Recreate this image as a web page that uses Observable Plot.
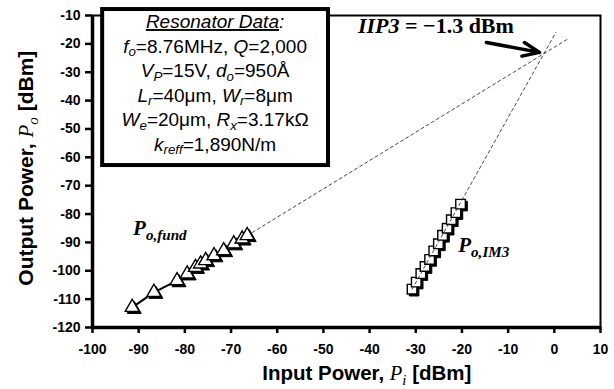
<!DOCTYPE html>
<html>
<head>
<meta charset="utf-8">
<script src="https://cdn.jsdelivr.net/npm/d3@7"></script>
<script src="https://cdn.jsdelivr.net/npm/@observablehq/plot@0.6"></script>
<style>
  html, body { margin: 0; padding: 0; background: #fff; }
  #chart { width: 614px; height: 389px; }
</style>
</head>
<body>
<div id="chart"></div>
<script>
// ---- data ----
const fundPin  = [-91.4, -86.7, -81.7, -79.5, -77.7, -76.6, -75.5, -73.7, -71.6, -69.4, -67.6, -66.5];
const fundPout = [-112.9, -107.6, -103.5, -101.1, -98.8, -97.6, -96.4, -94.7, -92.9, -90.5, -88.8, -87.6];
const im3Pin   = [-30.8, -29.9, -28.9, -28.0, -27.0, -26.1, -25.1, -24.2, -23.2, -22.3, -21.3, -20.3];
const im3Pout  = [-106.5, -104.0, -101.0, -98.5, -96.0, -93.0, -90.5, -87.5, -85.0, -82.0, -79.5, -76.5];
const fundExtrapPin  = [-66.5, 3.0];
const fundExtrapPout = [-87.6, -18.2];
const im3ExtrapPin   = [-30.8, 0.3];
const im3ExtrapPout  = [-106.5, -16.0];
const xTicks = [-100, -90, -80, -70, -60, -50, -40, -30, -20, -10, 0, 10];
const yTicks = [-120, -110, -100, -90, -80, -70, -60, -50, -40, -30, -20, -10];
const boxLines = [
  [["Resonator Data", "iu"], [":", "i"]],
  [["f", "i"], ["o", "s"], ["=8.76MHz, ", ""], ["Q", "i"], ["=2,000", ""]],
  [["V", "i"], ["P", "s"], ["=15V, ", ""], ["d", "i"], ["o", "s"], ["=950\u00C5", ""]],
  [["L", "i"], ["r", "s"], ["=40\u03BCm, ", ""], ["W", "i"], ["r", "s"], ["=8\u03BCm", ""]],
  [["W", "i"], ["e", "s"], ["=20\u03BCm, ", ""], ["R", "i"], ["x", "s"], ["=3.17k\u03A9", ""]],
  [["k", "i"], ["reff", "s"], ["=1,890N/m", ""]]
];

const fund = fundPin.map((x, i) => ({x, y: fundPout[i]}));
const im3 = im3Pin.map((x, i) => ({x, y: im3Pout[i]}));
const fundExt = fundExtrapPin.map((x, i) => ({x, y: fundExtrapPout[i]}));
const im3Ext = im3ExtrapPin.map((x, i) => ({x, y: im3ExtrapPout[i]}));

// annotation anchors (data units)
const box = {x1: -97.8, x2: -48.9, y1: -7.9, y2: -62.9};
const arrowA = {x1: -14.7, y1: -19.5, x2: -3.2, y2: -23.0};

const sans = "'Liberation Sans', Arial, Helvetica, sans-serif";
const serif = "'Liberation Serif', 'Times New Roman', serif";

const plot = Plot.plot({
  width: 614,
  height: 389,
  marginLeft: 92,
  marginRight: 14,
  marginTop: 15,
  marginBottom: 62,
  style: {fontFamily: sans, background: "white", overflow: "visible"},
  x: {domain: [-100, 10]},
  y: {domain: [-120, -10]},
  marks: [
    Plot.axisX(xTicks, {tickSize: 6, tickPadding: 11, strokeWidth: 2.5, fontSize: 14, fontWeight: "bold", tickFormat: d => String(d), label: null}),
    Plot.axisY(yTicks, {tickSize: 7, tickPadding: 5, strokeWidth: 2.5, fontSize: 14, fontWeight: "bold", tickFormat: d => String(d), label: null}),
    Plot.frame({stroke: "black", strokeWidth: 2}),
    Plot.ruleX([-100], {stroke: "black", strokeWidth: 3.5}),
    Plot.ruleY([-120], {stroke: "black", strokeWidth: 3.5}),
    Plot.rect([box], {x1: "x1", x2: "x2", y1: "y1", y2: "y2", fill: "white", stroke: "black", strokeWidth: 4}),
    Plot.line(fundExt, {x: "x", y: "y", stroke: "#333", strokeWidth: 0.9, strokeDasharray: "3,3"}),
    Plot.line(fund, {x: "x", y: "y", stroke: "black", strokeWidth: 2}),
    Plot.dot(fund, {x: "x", y: "y", symbol: "triangle", r: 5.2, fill: "black", stroke: "black", strokeWidth: 1, dx: 2, dy: 2}),
    Plot.dot(fund, {x: "x", y: "y", symbol: "triangle", r: 5.2, fill: "white", stroke: "black", strokeWidth: 1.4}),
    Plot.dot(im3, {x: "x", y: "y", symbol: "square", r: 5.4, fill: "black", stroke: "black", strokeWidth: 1, dx: 2, dy: 2}),
    Plot.dot(im3, {x: "x", y: "y", symbol: "square", r: 5.4, fill: "white", stroke: "black", strokeWidth: 1.4}),
    Plot.line(im3Ext, {x: "x", y: "y", stroke: "#333", strokeWidth: 0.9, strokeDasharray: "3,3"}),
    Plot.arrow([arrowA], {x1: "x1", y1: "y1", x2: "x2", y2: "y2", stroke: "black", strokeWidth: 3.5, headLength: 11, headAngle: 45})
  ]
});
document.getElementById("chart").appendChild(plot);

// ---- rich-text annotations placed through the plot's scales ----
const sx = plot.scale("x"), sy = plot.scale("y");
const svg = d3.select(plot);
const X = v => sx.apply(v), Y = v => sy.apply(v);

function richText(g, x, y, parts, opts) {
  const t = g.append("text")
    .attr("x", x).attr("y", y)
    .attr("text-anchor", opts.anchor || "start")
    .attr("font-family", opts.family || sans)
    .attr("font-size", opts.size)
    .attr("font-weight", opts.weight || "normal")
    .attr("fill", "black");
  if (opts.transform) t.attr("transform", opts.transform);
  let shift = 0;
  for (const [txt, st] of parts) {
    const s = t.append("tspan").text(txt);
    const isSub = st.includes("s");
    const target = isSub ? opts.size * (opts.subShift || 0.28) : 0;
    if (target !== shift) { s.attr("dy", target - shift); shift = target; }
    if (isSub) s.attr("font-size", opts.size * (opts.subScale || 0.72));
    if (st.includes("i") || (isSub && opts.subItalic !== false)) s.attr("font-style", "italic");
    if (st.includes("u")) s.attr("text-decoration", "underline");
    if (st.includes("f")) s.attr("font-family", serif);
    if (st.includes("n")) s.attr("font-weight", "normal");
  }
  return t;
}

const g = svg.append("g");
// resonator data box text
const boxCx = (X(box.x1) + X(box.x2)) / 2;
const firstBase = Y(box.y1) + 19;
boxLines.forEach((line, i) => {
  richText(g, boxCx, firstBase + i * 24.5, line, {anchor: "middle", size: 19, subShift: 0.2, subScale: 0.7});
});

// IIP3 label
richText(g, X(-42.4), Y(-16.4), [["IIP3", "i"], [" = \u22121.3 dBm", ""]], {family: serif, size: 22, weight: "bold"});

// series labels
richText(g, X(-91.1), Y(-87.6), [["P", "i"], ["o,fund", "si"]], {family: serif, size: 21, weight: "bold", subShift: 0.25, subScale: 0.72});
richText(g, X(-20.7), Y(-93.6), [["P", "i"], ["o,IM3", "si"]], {family: serif, size: 21, weight: "bold", subShift: 0.25, subScale: 0.72});

// axis labels
const xMid = X(-40.5);
richText(g, xMid, 380, [["Input Power, ", ""], ["P", "ifn"], ["i", "sfn"], [" [dBm]", ""]], {anchor: "middle", size: 20.5, weight: "bold", subShift: 0.22});
const yMid = Y(-64);
richText(g, 0, 0, [["Output Power, ", ""], ["P", "ifn"], ["o", "sfn"], [" [dBm]", ""]], {anchor: "middle", size: 21, weight: "bold", subShift: 0.22, transform: `translate(33,${yMid}) rotate(-90)`});
</script>
</body>
</html>
